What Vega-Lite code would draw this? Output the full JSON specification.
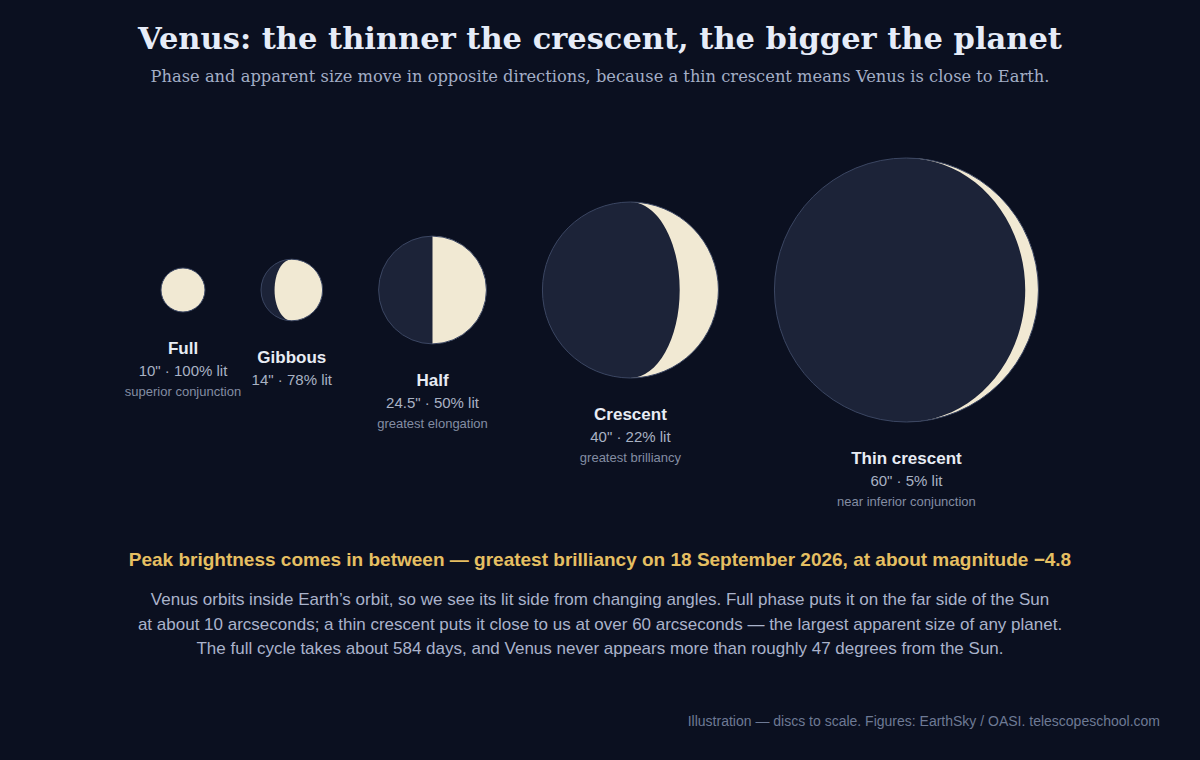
{
  "$schema": "https://vega.github.io/schema/vega-lite/v6.json",
  "width": 1200,
  "height": 760,
  "autosize": {"type": "fit", "contains": "padding"},
  "padding": {"top": 25, "left": 0, "right": 0, "bottom": 0},
  "background": "#0b1020",
  "title": {
    "text": "Venus: the thinner the crescent, the bigger the planet",
    "subtitle": "Phase and apparent size move in opposite directions, because a thin crescent means Venus is close to Earth.",
    "anchor": "middle",
    "font": "DejaVu Serif",
    "fontSize": 30.5,
    "fontWeight": "bold",
    "color": "#e6ecf8",
    "subtitleFont": "DejaVu Serif",
    "subtitleFontSize": 16.3,
    "subtitleColor": "#a3aec6",
    "subtitlePadding": 13
  },
  "datasets": {
    "venus": [
      {"phase": "Full", "arcsec": 10, "lit": 100, "note": "superior conjunction"},
      {"phase": "Gibbous", "arcsec": 14, "lit": 78, "note": ""},
      {"phase": "Half", "arcsec": 24.5, "lit": 50, "note": "greatest elongation"},
      {"phase": "Crescent", "arcsec": 40, "lit": 22, "note": "greatest brilliancy"},
      {"phase": "Thin crescent", "arcsec": 60, "lit": 5, "note": "near inferior conjunction"}
    ],
    "notes": [
      {"part": "lead", "side": "middle", "text": "Peak brightness comes in between — greatest brilliancy on 18 September 2026, at about magnitude −4.8"},
      {"part": "body", "side": "middle", "text": [
        "Venus orbits inside Earth’s orbit, so we see its lit side from changing angles. Full phase puts it on the far side of the Sun",
        "at about 10 arcseconds; a thin crescent puts it close to us at over 60 arcseconds — the largest apparent size of any planet.",
        "The full cycle takes about 584 days, and Venus never appears more than roughly 47 degrees from the Sun."
      ]},
      {"part": "credit", "side": "end", "text": "Illustration — discs to scale. Figures: EarthSky / OASI. telescopeschool.com"}
    ]
  },
  "layer": [
    {
      "data": {"name": "venus"},
      "transform": [
        {"window": [{"op": "sum", "field": "arcsec", "as": "cum"}, {"op": "row_number", "as": "idx"}],
          "sort": [{"field": "arcsec"}], "frame": [null, 0]},
        {"calculate": "datum.cum - datum.arcsec / 2 + 12.73 * (datum.idx - 1)", "as": "xpos"},
        {"calculate": "datum.arcsec + '\" · ' + datum.lit + '% lit'", "as": "detail"}
      ],
      "encoding": {
        "x": {"field": "xpos", "type": "quantitative", "axis": null,
          "scale": {"domain": [-36.59, 236.14], "nice": false, "zero": false}}
      },
      "layer": [
        {
          "encoding": {
            "y": {"field": "arcsec", "type": "quantitative", "axis": null,
              "scale": {"domain": [0, 60], "range": [201, 201]}},
            "size": {"field": "arcsec", "type": "quantitative", "legend": null,
              "scale": {"type": "pow", "exponent": 2, "domain": [0, 60], "range": [0, 69696]}}
          },
          "layer": [
            {"mark": {"type": "point", "shape": "circle", "filled": true, "fill": "#1c2338", "strokeWidth": 0, "opacity": 1}},
            {"mark": {"type": "point", "filled": true, "fill": "#f1e9d3", "strokeWidth": 0, "opacity": 1},
              "encoding": {
                "shape": {"field": "phase", "type": "nominal", "legend": null,
                  "scale": {
                    "domain": ["Full", "Gibbous", "Half", "Crescent", "Thin crescent"],
                    "range": [
                      "circle",
                      "M0,-1 C0.5523,-1 1,-0.5523 1,0 C1,0.5523 0.5523,1 0,1 C-0.3093,1 -0.56,0.5523 -0.56,0 C-0.56,-0.5523 -0.3093,-1 0,-1 Z",
                      "M0,-1 C0.5523,-1 1,-0.5523 1,0 C1,0.5523 0.5523,1 0,1 Z",
                      "M0,-1 C0.5523,-1 1,-0.5523 1,0 C1,0.5523 0.5523,1 0,1 C0.3093,1 0.56,0.5523 0.56,0 C0.56,-0.5523 0.3093,-1 0,-1 Z",
                      "M0,-1 C0.5523,-1 1,-0.5523 1,0 C1,0.5523 0.5523,1 0,1 C0.4971,1 0.9,0.5523 0.9,0 C0.9,-0.5523 0.4971,-1 0,-1 Z"
                    ]}}
              }},
            {"mark": {"type": "point", "shape": "circle", "filled": false, "stroke": "#3b4662", "strokeWidth": 1, "opacity": 1}}
          ]
        },
        {
          "encoding": {
            "y": {"field": "arcsec", "type": "quantitative", "axis": null,
              "scale": {"domain": [0, 60], "range": [238, 370]}}
          },
          "layer": [
            {"mark": {"type": "text", "font": "Liberation Sans", "fontSize": 17, "fontWeight": "bold", "color": "#e8ecf4", "baseline": "middle"},
              "encoding": {"text": {"field": "phase"}}},
            {"mark": {"type": "text", "font": "Liberation Sans", "fontSize": 15, "color": "#a9b2c4", "baseline": "middle", "dy": 22},
              "encoding": {"text": {"field": "detail"}}},
            {"mark": {"type": "text", "font": "Liberation Sans", "fontSize": 13, "color": "#838da3", "baseline": "middle", "dy": 43},
              "encoding": {"text": {"field": "note"}}}
          ]
        }
      ],
      "resolve": {"scale": {"y": "independent"}}
    },
    {
      "data": {"name": "notes"},
      "encoding": {
        "x": {"field": "side", "type": "nominal", "axis": null,
          "scale": {"type": "point", "domain": ["middle", "end"], "range": [600, 1160], "padding": 0}},
        "y": {"field": "part", "type": "nominal", "axis": null,
          "scale": {"type": "point", "domain": ["lead", "body", "credit"], "range": [471, 633], "padding": 0}}
      },
      "layer": [
        {"transform": [{"filter": "datum.part === 'lead'"}],
          "mark": {"type": "text", "font": "Liberation Sans", "fontSize": 19, "fontWeight": "bold", "color": "#e5bf62", "baseline": "middle"},
          "encoding": {"text": {"field": "text"}}},
        {"transform": [{"filter": "datum.part === 'body'"}],
          "mark": {"type": "text", "font": "Liberation Sans", "fontSize": 17, "color": "#aab3cb", "baseline": "middle", "lineHeight": 24.5, "dy": -41},
          "encoding": {"text": {"field": "text"}}},
        {"transform": [{"filter": "datum.part === 'credit'"}],
          "mark": {"type": "text", "font": "Liberation Sans", "fontSize": 14, "color": "#6e7a95", "baseline": "middle", "align": "right"},
          "encoding": {"text": {"field": "text"}}}
      ]
    }
  ],
  "resolve": {"scale": {"x": "independent", "y": "independent"}},
  "config": {"view": {"stroke": null}}
}
